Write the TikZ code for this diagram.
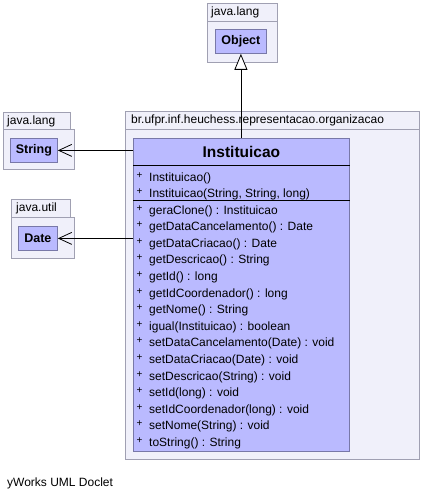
\documentclass[tikz,border=0pt]{standalone}
\usepackage{fontspec}
\setmainfont{Liberation Sans}
\usetikzlibrary{arrows.meta, positioning, calc}

\definecolor{pkgfill}{RGB}{240,240,250}
\definecolor{pkgdraw}{RGB}{160,160,178}
\definecolor{clsfill}{RGB}{186,186,255}
\definecolor{clsdraw}{RGB}{120,120,168}

\newcommand{\umlsize}{\fontsize{12pt}{14pt}\selectfont}

\begin{document}
\begin{tikzpicture}[
    x=1pt, y=-1pt,
    every node/.style={font=\umlsize, inner sep=0pt},
    pkgbody/.style={draw=pkgdraw, fill=pkgfill, line width=0.8pt, anchor=north west},
    pkgtab/.style={pkgbody, minimum height=18pt},
    pkglabel/.style={font=\umlsize},
    refbox/.style={draw=clsdraw, fill=clsfill, line width=0.8pt, anchor=north west,
      minimum height=24pt, font=\fontsize{12.5pt}{14pt}\selectfont\bfseries},
    clsbox/.style={draw=clsdraw, fill=clsfill, line width=0.8pt, anchor=north west},
    sep/.style={draw=black, line width=0.8pt},
    member/.style={anchor=base west},
    vis/.style={anchor=base west, font=\fontsize{10pt}{10pt}\selectfont},
    gen/.style={line width=0.8pt, -{Triangle[length=16pt, width=13pt, fill=white]}},
    assoc/.style={line width=0.8pt, -{Straight Barb[length=13pt, width=12pt]}},
  ]
    \useasboundingbox (0,0) rectangle (422,497);

    % packages
    \node[pkgbody, minimum width=70pt, minimum height=41pt] (objpkg) at (207,21) {};
    \node[pkgtab, minimum width=70pt] (objtab) at (207,3) {};
    \node[pkglabel, right=4pt of objtab.west] (objname) {java.lang};

    \node[pkgbody, minimum width=71pt, minimum height=40pt] (strpkg) at (3,129) {};
    \node[pkgtab, minimum width=67pt, minimum height=17pt] (strtab) at (3,112) {};
    \node[pkglabel, right=4pt of strtab.west] (strname) {java.lang};

    \node[pkgbody, minimum width=63pt, minimum height=41pt] (datepkg) at (11,217) {};
    \node[pkgtab, minimum width=59pt] (datetab) at (11,199) {};
    \node[pkglabel, right=5pt of datetab.west] (datename) {java.util};

    \node[pkgbody, minimum width=294pt, minimum height=330pt] (mainpkg) at (125,129) {};
    \node[pkgtab, minimum width=294pt] (maintab) at (125,111) {};
    \node[pkglabel, right=6pt of maintab.west] (mainname) {br.ufpr.inf.heuchess.representacao.organizacao};

    % referenced classes
    \node[refbox, minimum width=51pt] (obj) at (215,29) {Object};
    \node[refbox, minimum width=47pt] (str) at (10,138) {String};
    \node[refbox, minimum width=39pt] (date) at (18,226) {Date};

    % class Instituicao
    \node[clsbox, minimum width=216pt, minimum height=313pt] (inst) at (133,138) {};
    \node[font=\fontsize{15.5pt}{17pt}\selectfont\bfseries] (instname)
      at ($(inst.north)+(0,14)$) {Instituicao};
    \draw[sep] ($(inst.north west)+(0,27)$) -- ($(inst.north east)+(0,27)$);
    \draw[sep] ($(inst.north west)+(0,62)$) -- ($(inst.north east)+(0,62)$);

    \foreach \c [count=\i from 0] in {Instituicao(), {Instituicao(String, String, long)}} {
      \node[vis] (cp\i) at (136.5,{181+16*\i-3}) {+};
      \node[member] (c\i) at (149,{181+16*\i}) {\c};
    }

    \foreach \m [count=\i from 0] in {
        geraClone() : Instituicao,
        getDataCancelamento() : Date,
        getDataCriacao() : Date,
        getDescricao() : String,
        getId() : long,
        getIdCoordenador() : long,
        getNome() : String,
        igual(Instituicao) : boolean,
        setDataCancelamento(Date) : void,
        setDataCriacao(Date) : void,
        setDescricao(String) : void,
        setId(long) : void,
        setIdCoordenador(long) : void,
        setNome(String) : void,
        toString() : String} {
      \node[vis] (mp\i) at (136.5,{214+16.6*\i-3}) {+};
      \node[member] (m\i) at (149,{214+16.6*\i}) {\m};
    }

    % relations
    \draw[gen] (inst.north -| obj.south) -- (obj.south);
    \draw[assoc] (inst.west |- str.east) -- (str.east);
    \draw[assoc] (inst.west |- date.east) -- (date.east);

    \node[anchor=base west] (doclet) at (7,486) {yWorks UML Doclet};
\end{tikzpicture}
\end{document}
